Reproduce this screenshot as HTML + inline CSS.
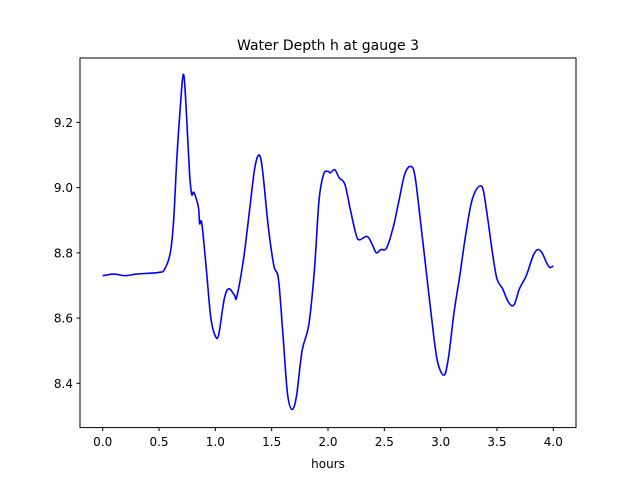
<!DOCTYPE html>
<html><head><meta charset="utf-8"><style>
body{margin:0;background:#fff;}
svg{display:block;font-family:"DejaVu Sans","Liberation Sans",sans-serif;}
</style></head><body>
<svg id="chart" width="640" height="480">
<rect width="640" height="480" fill="#fff"/>
<text x="328" y="50" font-size="14" text-anchor="middle">Water Depth h at gauge 3</text>
<text x="328" y="468" font-size="12" text-anchor="middle">hours</text>
<g id="plot"></g>
<rect x="80" y="58" width="496" height="369.6" fill="none" stroke="#000" stroke-width="1"/>
</svg>
<script>
const times=[0,0.1,0.2,0.3,0.5,0.55,0.6,0.63,0.66,0.7,0.72,0.74,0.77,0.79,0.81,0.85,0.86,0.88,0.92,0.96,1.0,1.03,1.08,1.12,1.17,1.19,1.25,1.3,1.35,1.39,1.42,1.47,1.52,1.56,1.6,1.64,1.68,1.72,1.77,1.83,1.88,1.92,1.96,2.0,2.02,2.06,2.1,2.15,2.2,2.25,2.28,2.35,2.4,2.43,2.47,2.52,2.58,2.63,2.68,2.73,2.77,2.82,2.87,2.92,2.97,3.03,3.07,3.12,3.17,3.22,3.27,3.31,3.35,3.38,3.42,3.46,3.5,3.55,3.6,3.65,3.7,3.76,3.82,3.86,3.9,3.94,3.97,4.0];
const depths=[8.73,8.735,8.73,8.735,8.74,8.75,8.80,8.90,9.1,9.30,9.345,9.25,9.05,8.98,8.985,8.94,8.89,8.89,8.75,8.6,8.545,8.55,8.66,8.69,8.67,8.665,8.78,8.92,9.06,9.10,9.05,8.88,8.76,8.72,8.55,8.37,8.32,8.36,8.50,8.58,8.75,8.96,9.04,9.05,9.045,9.055,9.03,9.01,8.93,8.855,8.84,8.85,8.82,8.80,8.81,8.815,8.88,8.96,9.04,9.065,9.04,8.90,8.75,8.60,8.47,8.425,8.48,8.62,8.73,8.85,8.95,8.99,9.005,8.99,8.90,8.80,8.72,8.69,8.65,8.64,8.69,8.73,8.79,8.81,8.80,8.77,8.755,8.76];
const xTicks=[0,0.5,1.0,1.5,2.0,2.5,3.0,3.5,4.0];
const yTicks=[8.4,8.6,8.8,9.0,9.2];
const NS="http://www.w3.org/2000/svg";
const X=t=>102.7+t*112.65;
const Y=v=>383.3-(v-8.4)*326.1;
const g=document.getElementById('plot');
function mk(tag,attrs){const e=document.createElementNS(NS,tag);for(const k in attrs)e.setAttribute(k,attrs[k]);g.appendChild(e);return e;}
xTicks.forEach(t=>{
  const l=mk('line',{x1:X(t),x2:X(t),y1:427.6,y2:431.1,stroke:'#000'});
  
  
  const tx=mk('text',{x:X(t),y:446,'font-size':12,'text-anchor':'middle',fill:'#000'});
  tx.textContent=t.toFixed(1);
  
  
});
yTicks.forEach(v=>{
  const l=mk('line',{x1:76.5,x2:80,y1:Y(v),y2:Y(v),stroke:'#000'});
  
  
  const tx=mk('text',{x:73,y:Y(v)+4.5,'font-size':12,'text-anchor':'end',fill:'#000'});
  tx.textContent=v.toFixed(1);
  
  
});
const pts=times.map((t,i)=>[X(t),Y(depths[i])]);
let d='M'+pts[0][0]+','+pts[0][1];
for(let i=0;i<pts.length-1;i++){
  const p0=pts[Math.max(0,i-1)],p1=pts[i],p2=pts[i+1],p3=pts[Math.min(pts.length-1,i+2)];
  const c1=[p1[0]+(p2[0]-p0[0])/6,p1[1]+(p2[1]-p0[1])/6];
  const c2=[p2[0]-(p3[0]-p1[0])/6,p2[1]-(p3[1]-p1[1])/6];
  d+=' C'+c1+' '+c2+' '+p2;
}
const path=mk('path',{d:d,fill:'none',stroke:'#0000ff','stroke-width':1.6,'stroke-linejoin':'round'});


</script>
</body></html>
